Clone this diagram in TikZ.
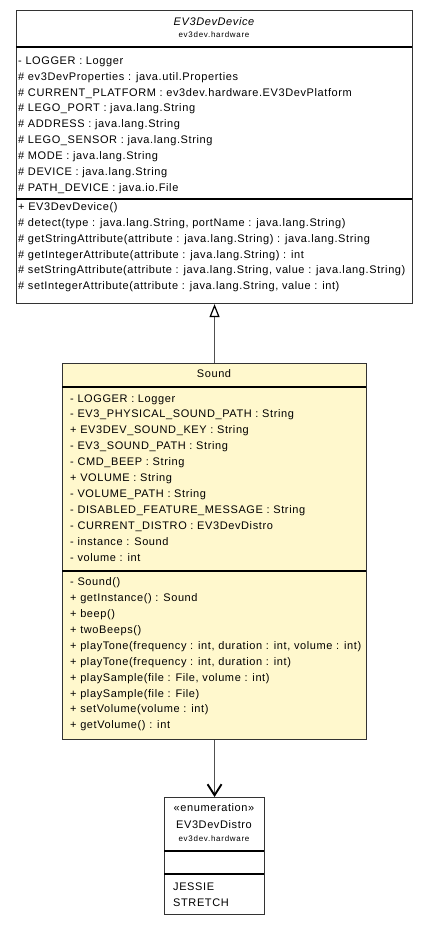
\documentclass[tikz,border=0pt]{standalone}
\usepackage{fontspec}
\setmainfont{Liberation Sans}
\newfontfamily\umlfont[LetterSpace=5.5]{Liberation Sans}
\newfontfamily\pkgfont[LetterSpace=9]{Liberation Sans}
\usetikzlibrary{arrows.meta}
\definecolor{umlfill}{HTML}{FFF8CD}
\definecolor{umlline}{HTML}{333333}
\definecolor{connline}{HTML}{505050}
\begin{document}
\begin{tikzpicture}[x=1pt,y=-1pt,
  box/.style={draw=umlline, line width=1.1pt, inner sep=0pt, anchor=north west},
  sep/.style={draw=black, line width=1.7pt},
  txt/.style={anchor=base west, inner sep=0pt, font=\umlfont\fontsize{11}{13}\selectfont},
  ctxt/.style={anchor=base, inner sep=0pt, font=\umlfont\fontsize{11}{13}\selectfont},
  pkg/.style={anchor=base, inner sep=0pt, font=\pkgfont\fontsize{8}{9}\selectfont},
  inh/.style={draw=connline, line width=1.5pt, -{Triangle[open, length=13pt, width=10pt, line width=1.2pt, color=black]}},
  dep/.style={draw=connline, line width=1.5pt, -{Straight Barb[length=11pt, width=14pt, line width=1.9pt, color=black]}}
]
\useasboundingbox (0,0) rectangle (428,925);

% EV3DevDevice
\node[box, fill=white, minimum width=396pt, minimum height=293pt] (dev) at (16,10) {};
\draw[sep] (16,47) -- (412,47);
\draw[sep] (16,199) -- (412,199);
\node[ctxt, font=\umlfont\fontsize{11}{13}\selectfont\itshape] (devtitle) at (214,26) {EV3DevDevice};
\node[pkg] (devpkg) at (214,37.7) {ev3dev.hardware};
\foreach \t [count=\i from 0] in {
  {- LOGGER : Logger},
  {\# ev3DevProperties : java.util.Properties},
  {\# CURRENT\_PLATFORM : ev3dev.hardware.EV3DevPlatform},
  {\# LEGO\_PORT : java.lang.String},
  {\# ADDRESS : java.lang.String},
  {\# LEGO\_SENSOR : java.lang.String},
  {\# MODE : java.lang.String},
  {\# DEVICE : java.lang.String},
  {\# PATH\_DEVICE : java.io.File}}
  \node[txt] (da\i) at (18,{64.3+\i*15.9}) {\t};
\foreach \t [count=\i from 0] in {
  {+ EV3DevDevice()},
  {\# detect(type : java.lang.String, portName : java.lang.String)},
  {\# getStringAttribute(attribute : java.lang.String) : java.lang.String},
  {\# getIntegerAttribute(attribute : java.lang.String) : int},
  {\# setStringAttribute(attribute : java.lang.String, value : java.lang.String)},
  {\# setIntegerAttribute(attribute : java.lang.String, value : int)}}
  \node[txt] (dm\i) at (18,{210.3+\i*15.9}) {\t};

% Sound
\node[box, fill=umlfill, minimum width=304pt, minimum height=376pt] (sound) at (62,363) {};
\draw[sep] (62,387) -- (366,387);
\draw[sep] (62,571) -- (366,571);
\node[ctxt] (soundtitle) at (214,377.7) {Sound};
\foreach \t [count=\i from 0] in {
  {- LOGGER : Logger},
  {- EV3\_PHYSICAL\_SOUND\_PATH : String},
  {+ EV3DEV\_SOUND\_KEY : String},
  {- EV3\_SOUND\_PATH : String},
  {- CMD\_BEEP : String},
  {+ VOLUME : String},
  {- VOLUME\_PATH : String},
  {- DISABLED\_FEATURE\_MESSAGE : String},
  {- CURRENT\_DISTRO : EV3DevDistro},
  {- instance : Sound},
  {- volume : int}}
  \node[txt] (sa\i) at (70,{402+\i*15.9}) {\t};
\foreach \t [count=\i from 0] in {
  {- Sound()},
  {+ getInstance() : Sound},
  {+ beep()},
  {+ twoBeeps()},
  {+ playTone(frequency : int, duration : int, volume : int)},
  {+ playTone(frequency : int, duration : int)},
  {+ playSample(file : File, volume : int)},
  {+ playSample(file : File)},
  {+ setVolume(volume : int)},
  {+ getVolume() : int}}
  \node[txt] (sm\i) at (70,{585.7+\i*15.9}) {\t};

% EV3DevDistro
\node[box, fill=white, minimum width=100pt, minimum height=117pt] (enum) at (164,797) {};
\draw[sep] (164,851) -- (264,851);
\draw[sep] (164,874) -- (264,874);
\node[ctxt] (enumst) at (214,811) {«enumeration»};
\node[ctxt] (enumtitle) at (214,828) {EV3DevDistro};
\node[pkg] (enumpkg) at (214,841) {ev3dev.hardware};
\node[txt] (ej) at (173,890) {JESSIE};
\node[txt] (es) at (173,906) {STRETCH};

% connectors
\draw[inh] (sound.north) -- (dev.south);
\draw[dep] (sound.south) -- (enum.north);
\end{tikzpicture}
\end{document}
